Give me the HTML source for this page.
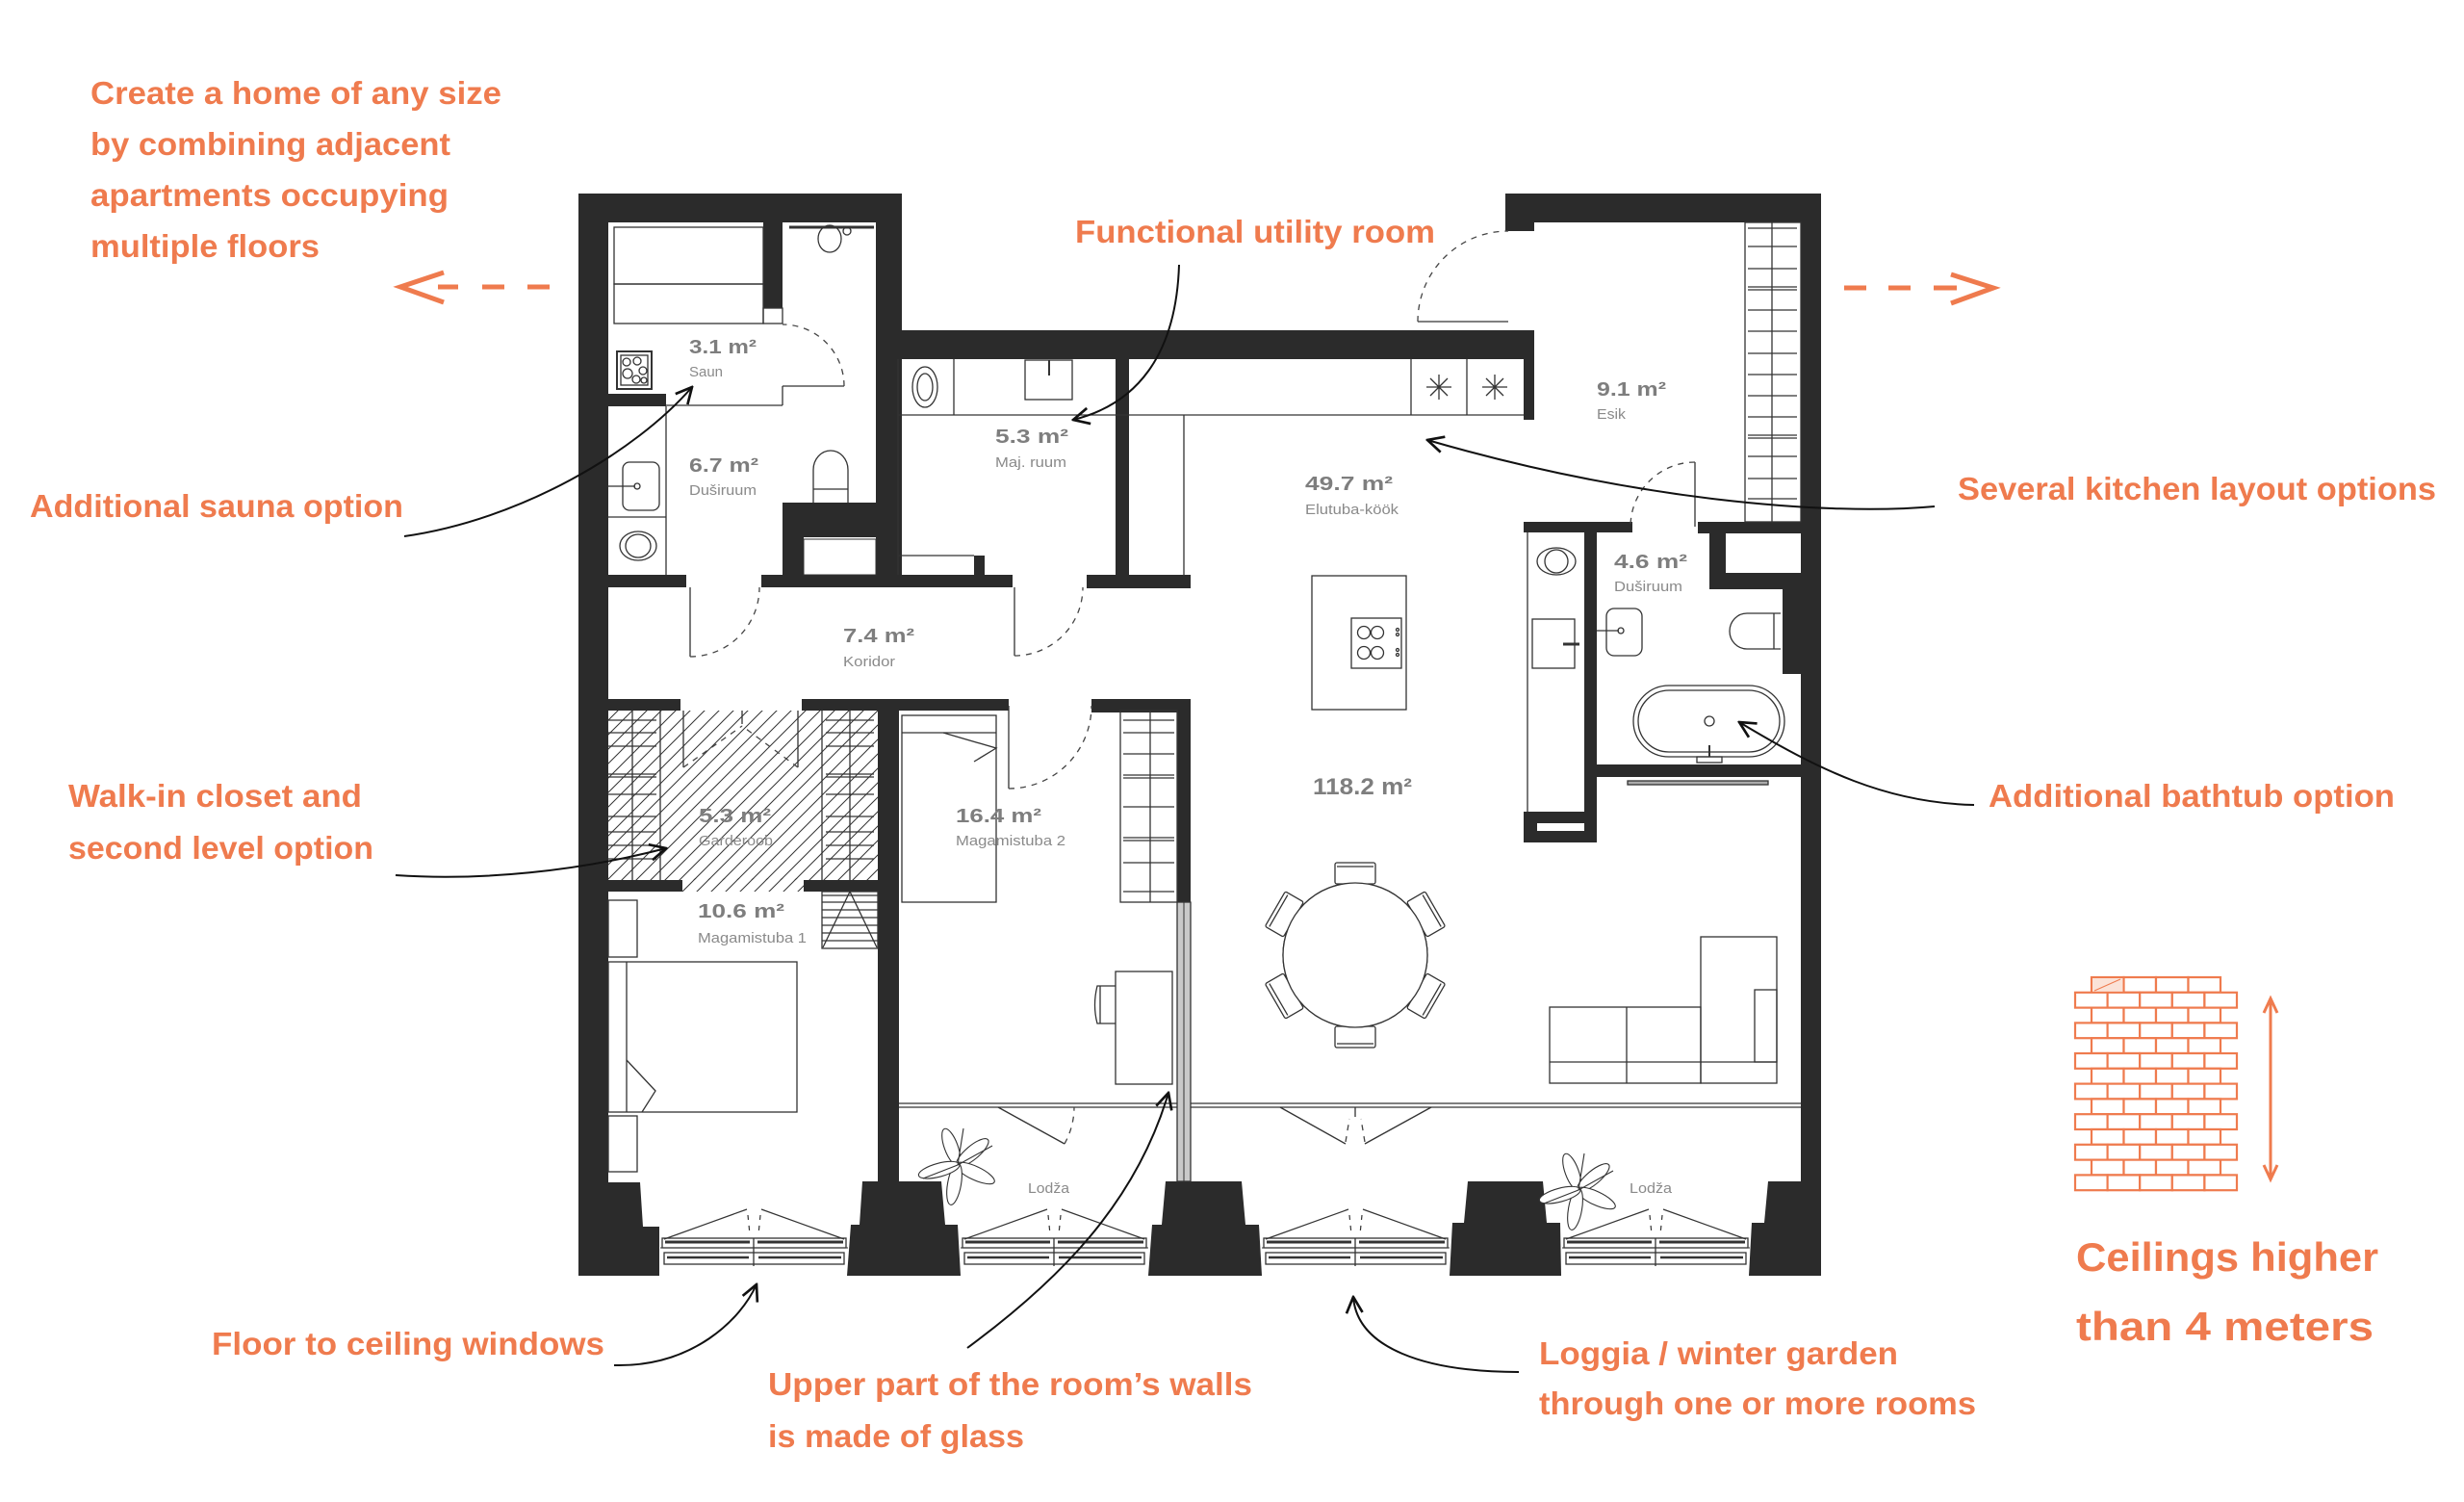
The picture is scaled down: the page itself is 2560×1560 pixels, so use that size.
<!DOCTYPE html>
<html><head><meta charset="utf-8"><style>
html,body{margin:0;padding:0;background:#fff;}
svg{display:block;}
.o{fill:#EF7B4E;font-family:"Liberation Sans",sans-serif;font-weight:bold;font-size:33px;}
.c{fill:#EF7B4E;font-family:"Liberation Sans",sans-serif;font-weight:bold;font-size:42px;}
.a{fill:#7e7e7e;font-family:"Liberation Sans",sans-serif;font-weight:bold;font-size:20px;}
.l{fill:#8a8a8a;font-family:"Liberation Sans",sans-serif;font-size:15px;}
.w{fill:#2b2b2b;}
.t{fill:none;stroke:#333;stroke-width:1.3;}
.d{fill:none;stroke:#444;stroke-width:1.3;stroke-dasharray:6 6;}
.k{fill:none;stroke:#111;stroke-width:2;}
</style></head><body>
<svg width="2560" height="1560" viewBox="0 0 2560 1560" xmlns="http://www.w3.org/2000/svg">
<defs>
<marker id="ar" viewBox="0 0 12 12" refX="11" refY="6" markerWidth="20" markerHeight="20" markerUnits="userSpaceOnUse" orient="auto">
<path d="M1,1 L11,6 L1,11" fill="none" stroke="#111" stroke-width="1.6"/>
</marker>
<pattern id="hatch" patternUnits="userSpaceOnUse" width="15" height="15">
<path d="M-2,17 L17,-2 M-2,2 L2,-2 M13,17 L17,13" stroke="#333" stroke-width="1"/>
</pattern>
<g id="win">
<rect x="2" y="1286" width="191" height="10" fill="#fff" stroke="#333" stroke-width="1.3"/>
<line x1="5" y1="1290" x2="93" y2="1290" stroke="#333" stroke-width="3"/>
<line x1="101" y1="1290" x2="190" y2="1290" stroke="#333" stroke-width="3"/>
<rect x="4" y="1301" width="187" height="12" fill="#fff" stroke="#333" stroke-width="1.3"/>
<line x1="7" y1="1306" x2="92" y2="1306" stroke="#333" stroke-width="2.5"/>
<line x1="102" y1="1306" x2="188" y2="1306" stroke="#333" stroke-width="2.5"/>
<line x1="0" y1="1296" x2="195" y2="1296" stroke="#333" stroke-width="1"/>
<line x1="97" y1="1286" x2="97" y2="1315" stroke="#333" stroke-width="1.3"/>
<line x1="4" y1="1287" x2="90" y2="1256" stroke="#333" stroke-width="1.2"/>
<line x1="105" y1="1256" x2="191" y2="1287" stroke="#333" stroke-width="1.2"/>
<line x1="91" y1="1262" x2="93" y2="1282" stroke="#333" stroke-width="1.2" stroke-dasharray="5 6"/>
<line x1="104" y1="1262" x2="102" y2="1282" stroke="#333" stroke-width="1.2" stroke-dasharray="5 6"/>
</g>
<g id="chair">
<rect x="1387" y="896" width="42" height="22" rx="2" fill="#fff" stroke="#333" stroke-width="1.3"/>
<line x1="1389" y1="900" x2="1427" y2="900" stroke="#333" stroke-width="1.3"/>
</g>
<g id="plant" fill="#fff" stroke="#333" stroke-width="1.1">
<ellipse cx="0" cy="-20" rx="7" ry="20" transform="rotate(-20)"/>
<ellipse cx="0" cy="-20" rx="7" ry="21" transform="rotate(50)"/>
<ellipse cx="0" cy="-20" rx="7" ry="22" transform="rotate(115)"/>
<ellipse cx="0" cy="-20" rx="7" ry="22" transform="rotate(190)"/>
<ellipse cx="0" cy="-20" rx="7" ry="22" transform="rotate(255)"/>
<line x1="0" y1="0" x2="6" y2="-38"/>
<line x1="0" y1="0" x2="36" y2="-20"/>
<line x1="0" y1="0" x2="-36" y2="14"/>
</g>
</defs>

<rect width="2560" height="1560" fill="#fff"/>

<!-- ========== GARDEROOB HATCH ========== -->
<rect x="628" y="738" width="284" height="176" fill="url(#hatch)"/>
<rect x="709" y="912" width="126" height="14" fill="url(#hatch)"/>

<!-- ========== WALLS ========== -->
<g class="w">
<rect x="601" y="201" width="31" height="1030"/>
<rect x="601" y="201" width="336" height="30"/>
<rect x="910" y="201" width="27" height="396"/>
<rect x="937" y="343" width="657" height="30"/>
<rect x="1583" y="373" width="11" height="63"/>
<rect x="1564" y="201" width="328" height="30"/>
<rect x="1564" y="201" width="30" height="39"/>
<rect x="1871" y="201" width="21" height="1030"/>
<rect x="793" y="231" width="20" height="89"/>
<rect x="632" y="409" width="60" height="13"/>
<rect x="628" y="597" width="85" height="13"/>
<rect x="791" y="597" width="261" height="13"/>
<rect x="1129" y="597" width="108" height="14"/>
<rect x="1159" y="373" width="14" height="225"/>
<rect x="1012" y="577" width="11" height="20"/>
<rect x="813" y="522" width="97" height="36"/>
<rect x="813" y="558" width="22" height="39"/>
<rect x="628" y="726" width="79" height="12"/>
<rect x="833" y="726" width="215" height="12"/>
<rect x="1134" y="726" width="103" height="14"/>
<rect x="628" y="914" width="81" height="12"/>
<rect x="835" y="914" width="77" height="12"/>
<rect x="912" y="738" width="22" height="492"/>
<rect x="1223" y="726" width="14" height="211"/>
<rect x="1646" y="553" width="13" height="322"/>
<rect x="1583" y="542" width="113" height="11"/>
<rect x="1764" y="542" width="108" height="12"/>
<rect x="1583" y="843" width="76" height="32"/>
<rect x="1776" y="553" width="17" height="59"/>
<rect x="1776" y="595" width="96" height="17"/>
<rect x="1852" y="612" width="20" height="88"/>
<rect x="1646" y="794" width="226" height="13"/>
<!-- pillars -->
<polygon points="601,1228 665,1228 668,1274 685,1274 685,1325 601,1325"/>
<polygon points="896,1227 978,1227 982,1272 995,1272 998,1325 880,1325 884,1272 893,1272"/>
<polygon points="1211,1227 1290,1227 1294,1272 1308,1272 1311,1325 1193,1325 1197,1272 1207,1272"/>
<polygon points="1525,1227 1603,1227 1607,1270 1621,1270 1622,1325 1506,1325 1509,1270 1521,1270"/>
<polygon points="1837,1227 1892,1227 1892,1325 1817,1325 1820,1270 1833,1270"/>
</g>
<rect x="1597" y="855" width="49" height="8" fill="#fff"/>
<rect x="835" y="560" width="75" height="37" fill="#fff" stroke="#333" stroke-width="1"/>
<rect x="1793" y="557" width="77" height="38" fill="#fff"/>

<!-- glass wall -->
<rect x="1223" y="937" width="14" height="290" fill="#c9c9c9" stroke="#333" stroke-width="1.3"/>
<line x1="1230" y1="937" x2="1230" y2="1227" stroke="#333" stroke-width="1"/>

<!-- ========== FIXTURES ========== -->
<g class="t">
<!-- sauna -->
<rect x="638" y="236" width="155" height="59"/>
<rect x="638" y="295" width="155" height="41"/>
<rect x="793" y="320" width="20" height="16"/>
<line x1="692" y1="421" x2="813" y2="421"/>
<line x1="813" y1="401" x2="813" y2="421"/>
<line x1="813" y1="401" x2="877" y2="401"/>
<rect x="641" y="365" width="36" height="39" stroke-width="2"/>
<rect x="645" y="369" width="28" height="31"/>
<circle cx="651" cy="376" r="4"/><circle cx="662" cy="375" r="4"/><circle cx="668" cy="385" r="4"/>
<circle cx="652" cy="388" r="5"/><circle cx="661" cy="394" r="4"/><circle cx="669" cy="395" r="3"/>
<!-- WC top -->
<line x1="820" y1="236" x2="908" y2="236" stroke-width="3"/>
<ellipse cx="862" cy="248" rx="12" ry="14"/>
<circle cx="880" cy="240" r="4"/>
<!-- 6.7 bath -->
<line x1="692" y1="422" x2="692" y2="597"/>
<rect x="647" y="480" width="38" height="50" rx="7"/>
<line x1="632" y1="505" x2="660" y2="505"/>
<circle cx="662" cy="505" r="3"/>
<line x1="632" y1="537" x2="692" y2="537"/>
<ellipse cx="663" cy="567" rx="19" ry="15"/>
<ellipse cx="663" cy="567" rx="13" ry="12"/>
<path d="M845,522 L845,488 A18,20 0 0 1 881,488 L881,522"/>
<line x1="845" y1="508" x2="881" y2="508"/>
<!-- maj ruum -->
<line x1="933" y1="431" x2="1583" y2="431"/>
<line x1="991" y1="373" x2="991" y2="431"/>
<ellipse cx="961" cy="402" rx="13" ry="21"/>
<ellipse cx="961" cy="402" rx="8" ry="14"/>
<rect x="1065" y="374" width="49" height="41"/>
<line x1="1090" y1="374" x2="1090" y2="390" stroke-width="2"/>
<line x1="1230" y1="431" x2="1230" y2="598"/>
<line x1="933" y1="577" x2="1012" y2="577"/>
<line x1="933" y1="373" x2="933" y2="597"/>
<!-- kitchen counter -->
<line x1="1466" y1="373" x2="1466" y2="431"/>
<line x1="1524" y1="373" x2="1524" y2="431"/>
<path d="M1482,402 L1508,402 M1495,389 L1495,415 M1486,393 L1504,411 M1504,393 L1486,411"/>
<path d="M1540,402 L1566,402 M1553,389 L1553,415 M1544,393 L1562,411 M1562,393 L1544,411"/>
<!-- island -->
<rect x="1363" y="598" width="98" height="139"/>
<rect x="1404" y="642" width="52" height="52"/>
<circle cx="1417" cy="657" r="6.5"/><circle cx="1431" cy="657" r="6.5"/>
<circle cx="1417" cy="678" r="6.5"/><circle cx="1431" cy="678" r="6.5"/>
<circle cx="1452" cy="654" r="1.5"/><circle cx="1452" cy="659" r="1.5"/>
<circle cx="1452" cy="675" r="1.5"/><circle cx="1452" cy="680" r="1.5"/>
<!-- esik wardrobe -->
<rect x="1813" y="231" width="58" height="311"/>
<line x1="1841" y1="231" x2="1841" y2="542"/>
<path d="M1816,237 H1867 M1816,256 H1867 M1816,279 H1867 M1816,298 H1867 M1816,301 H1867 M1816,322 H1867 M1816,344 H1867 M1816,367 H1867 M1816,389 H1867 M1816,411 H1867 M1816,433 H1867 M1816,452 H1867 M1816,455 H1867 M1816,474 H1867 M1816,497 H1867 M1816,518 H1867"/>
<line x1="1473" y1="334" x2="1567" y2="334"/>
<!-- 4.6 bath -->
<line x1="1587" y1="553" x2="1587" y2="843"/>
<ellipse cx="1617" cy="583" rx="20" ry="14"/>
<ellipse cx="1617" cy="583" rx="12" ry="12"/>
<rect x="1592" y="643" width="44" height="51"/>
<line x1="1624" y1="669" x2="1641" y2="669" stroke-width="3"/>
<rect x="1669" y="632" width="37" height="49" rx="8"/>
<line x1="1659" y1="655" x2="1682" y2="655"/>
<circle cx="1684" cy="655" r="3"/>
<path d="M1850,637 L1815,637 A18,18.5 0 0 0 1815,674 L1850,674"/>
<line x1="1843" y1="637" x2="1843" y2="674"/>
<line x1="1761" y1="480" x2="1761" y2="547"/>
<rect x="1697" y="712" width="157" height="74" rx="37"/>
<rect x="1702" y="717" width="147" height="64" rx="32"/>
<circle cx="1776" cy="749" r="5"/>
<line x1="1776" y1="774" x2="1776" y2="786" stroke-width="2"/>
<rect x="1763" y="786" width="26" height="6"/>
<rect x="1691" y="811" width="146" height="4" fill="#aaa"/>
<!-- koridor doors -->
<line x1="717" y1="610" x2="717" y2="682"/>
<line x1="1054" y1="610" x2="1054" y2="681"/>
<line x1="1048" y1="733" x2="1048" y2="819"/>
<!-- garderoob -->
<line x1="710" y1="738" x2="710" y2="797"/>
<line x1="829" y1="738" x2="829" y2="797"/>
<line x1="771" y1="738" x2="771" y2="752"/>
<line x1="657" y1="738" x2="657" y2="914"/>
<line x1="686" y1="738" x2="686" y2="914"/>
<line x1="854" y1="738" x2="854" y2="914"/>
<line x1="883" y1="738" x2="883" y2="914"/>
<path d="M632,748 H682 M632,761 H682 M632,775 H682 M632,804 H682 M632,807 H682 M632,825 H682 M632,848 H682 M632,864 H682 M632,878 H682 M632,892 H682"/>
<path d="M858,748 H908 M858,761 H908 M858,775 H908 M858,804 H908 M858,807 H908 M858,825 H908 M858,848 H908 M858,864 H908 M858,878 H908 M858,892 H908"/>
<!-- bedroom 1 -->
<rect x="854" y="926" width="58" height="59"/>
<path d="M854,930 H912 M854,937 H912 M854,945 H912 M854,953 H912 M854,961 H912 M854,969 H912 M854,977 H912"/>
<path d="M855,984 L883,926 L911,984"/>
<rect x="632" y="935" width="30" height="59"/>
<rect x="632" y="999" width="196" height="156"/>
<line x1="651" y1="999" x2="651" y2="1155"/>
<path d="M651,1101 L681,1133 L667,1155"/>
<rect x="632" y="1159" width="30" height="58"/>
<!-- bedroom 2 -->
<rect x="937" y="743" width="98" height="194"/>
<line x1="937" y1="761" x2="1035" y2="761"/>
<path d="M980,761 L1035,777 L1012,791"/>
<rect x="1164" y="738" width="59" height="199"/>
<line x1="1195" y1="738" x2="1195" y2="937"/>
<path d="M1167,748 H1220 M1167,805 H1220 M1167,808 H1220 M1167,870 H1220 M1167,873 H1220 M1167,926 H1220 M1167,761 H1220 M1167,783 H1220 M1167,838 H1220 M1167,896 H1220"/>
<rect x="1159" y="1009" width="59" height="117"/>
<path d="M1159,1024 L1140,1024 Q1135,1044 1140,1063 L1159,1063"/>
<line x1="1143" y1="1024" x2="1143" y2="1063"/>
<!-- living -->
<circle cx="1408" cy="992" r="75" fill="#fff"/>
<rect x="1610" y="1046" width="157" height="79"/>
<line x1="1690" y1="1046" x2="1690" y2="1125"/>
<line x1="1610" y1="1103" x2="1846" y2="1103"/>
<rect x="1767" y="973" width="79" height="152"/>
<rect x="1823" y="1028" width="23" height="75"/>
<!-- loggia line -->
<path d="M934,1146 H1223 M934,1150 H1223 M1237,1146 H1871 M1237,1150 H1871"/>
<line x1="1037" y1="1150" x2="1106" y2="1188"/>
<line x1="1330" y1="1150" x2="1398" y2="1188"/>
<line x1="1487" y1="1150" x2="1418" y2="1188"/>
<line x1="1408" y1="1150" x2="1408" y2="1160"/>
</g>
<g>
<use href="#chair"/>
<use href="#chair" transform="rotate(60 1408 992)"/>
<use href="#chair" transform="rotate(120 1408 992)"/>
<use href="#chair" transform="rotate(180 1408 992)"/>
<use href="#chair" transform="rotate(240 1408 992)"/>
<use href="#chair" transform="rotate(300 1408 992)"/>
</g>
<circle cx="1408" cy="992" r="75" fill="#fff" stroke="#333" stroke-width="1.3"/>

<!-- dashed door arcs -->
<g class="d">
<path d="M877,401 A64,64 0 0 0 813,337"/>
<path d="M717,682 A72,72 0 0 0 789,610"/>
<path d="M1054,681 A71,71 0 0 0 1125,610"/>
<path d="M1048,819 A86,86 0 0 0 1134,733"/>
<path d="M1473,334 A94,94 0 0 1 1567,240"/>
<path d="M1761,480 A67,67 0 0 0 1694,547"/>
<path d="M1106,1188 A79,79 0 0 0 1116,1150"/>
<path d="M710,797 L771,754"/>
<path d="M829,797 L771,754"/>
<path d="M1398,1186 L1402,1162"/>
<path d="M1418,1186 L1414,1162"/>
</g>

<!-- windows -->
<use href="#win" transform="translate(686,0)"/>
<use href="#win" transform="translate(998,0)"/>
<use href="#win" transform="translate(1311,0)"/>
<use href="#win" transform="translate(1623,0)"/>

<!-- plants -->
<use href="#plant" transform="translate(995,1210)"/>
<use href="#plant" transform="translate(1640,1236)"/>

<!-- ========== PLAN TEXT ========== -->
<text class="a" x="716" y="367" textLength="70" lengthAdjust="spacingAndGlyphs">3.1 m²</text>
<text class="l" x="716" y="391" textLength="35" lengthAdjust="spacingAndGlyphs">Saun</text>
<text class="a" x="716" y="490" textLength="72" lengthAdjust="spacingAndGlyphs">6.7 m²</text>
<text class="l" x="716" y="514" textLength="70" lengthAdjust="spacingAndGlyphs">Duširuum</text>
<text class="a" x="1034" y="460" textLength="76" lengthAdjust="spacingAndGlyphs">5.3 m²</text>
<text class="l" x="1034" y="485" textLength="74" lengthAdjust="spacingAndGlyphs">Maj. ruum</text>
<text class="a" x="876" y="667" textLength="74" lengthAdjust="spacingAndGlyphs">7.4 m²</text>
<text class="l" x="876" y="692" textLength="54" lengthAdjust="spacingAndGlyphs">Koridor</text>
<text class="a" x="1356" y="509" textLength="91" lengthAdjust="spacingAndGlyphs">49.7 m²</text>
<text class="l" x="1356" y="534" textLength="97" lengthAdjust="spacingAndGlyphs">Elutuba-köök</text>
<text class="a" x="1659" y="411" textLength="72" lengthAdjust="spacingAndGlyphs">9.1 m²</text>
<text class="l" x="1659" y="435" textLength="30" lengthAdjust="spacingAndGlyphs">Esik</text>
<text class="a" x="1677" y="590" textLength="76" lengthAdjust="spacingAndGlyphs">4.6 m²</text>
<text class="l" x="1677" y="614" textLength="71" lengthAdjust="spacingAndGlyphs">Duširuum</text>
<text class="a" x="726" y="854" textLength="75" lengthAdjust="spacingAndGlyphs">5.3 m²</text>
<text class="l" x="726" y="878" textLength="77" lengthAdjust="spacingAndGlyphs">Garderoob</text>
<text class="a" x="725" y="953" textLength="90" lengthAdjust="spacingAndGlyphs">10.6 m²</text>
<text class="l" x="725" y="979" textLength="113" lengthAdjust="spacingAndGlyphs">Magamistuba 1</text>
<text class="a" x="993" y="854" textLength="89" lengthAdjust="spacingAndGlyphs">16.4 m²</text>
<text class="l" x="993" y="878" textLength="114" lengthAdjust="spacingAndGlyphs">Magamistuba 2</text>
<text class="a" x="1364" y="825" style="font-size:24px" textLength="103" lengthAdjust="spacingAndGlyphs">118.2 m²</text>
<text class="l" x="1068" y="1239" textLength="43" lengthAdjust="spacingAndGlyphs">Lodža</text>
<text class="l" x="1693" y="1239" textLength="44" lengthAdjust="spacingAndGlyphs">Lodža</text>

<!-- ========== LEADERS ========== -->
<g class="k" marker-end="url(#ar)">
<path d="M420,557 C540,540 660,470 719,402"/>
<path d="M1225,275 C1222,370 1180,420 1115,436"/>
<path d="M2010,526 C1900,536 1700,520 1483,457"/>
<path d="M2051,836 C1960,834 1890,800 1807,750"/>
<path d="M411,909 C500,915 600,905 692,881"/>
<path d="M638,1418 C720,1420 770,1370 786,1334"/>
<path d="M1005,1400 C1100,1330 1180,1250 1214,1135"/>
<path d="M1578,1425 C1480,1425 1410,1400 1406,1347"/>
</g>

<!-- ========== ORANGE ARROWS ========== -->
<g stroke="#EF7B4E" stroke-width="5" fill="none">
<path d="M455,298 H476 M501,298 H524 M548,298 H571"/>
<path d="M461,283 L416,298 L461,314"/>
<path d="M1916,299 H1939 M1962,299 H1985 M2009,299 H2033"/>
<path d="M2027,285 L2071,299 L2027,315"/>
</g>

<!-- brick wall -->
<g fill="#fff" stroke="#EF7B4E" stroke-width="2.2">
<g id="brow0">
<rect x="2173" y="1015" width="33.5" height="15.8"/><rect x="2206.5" y="1015" width="33.5" height="15.8"/><rect x="2240" y="1015" width="33.5" height="15.8"/><rect x="2273.5" y="1015" width="33.5" height="15.8"/>
</g>
<g id="brow1">
<rect x="2156" y="1030.8" width="33.6" height="15.8"/><rect x="2189.6" y="1030.8" width="33.6" height="15.8"/><rect x="2223.2" y="1030.8" width="33.6" height="15.8"/><rect x="2256.8" y="1030.8" width="33.6" height="15.8"/><rect x="2290.4" y="1030.8" width="33.6" height="15.8"/>
</g>
<use href="#brow0" transform="translate(0,31.6)"/><use href="#brow1" transform="translate(0,31.6)"/>
<use href="#brow0" transform="translate(0,63.2)"/><use href="#brow1" transform="translate(0,63.2)"/>
<use href="#brow0" transform="translate(0,94.8)"/><use href="#brow1" transform="translate(0,94.8)"/>
<use href="#brow0" transform="translate(0,126.4)"/><use href="#brow1" transform="translate(0,126.4)"/>
<use href="#brow0" transform="translate(0,158)"/><use href="#brow1" transform="translate(0,158)"/>
<use href="#brow0" transform="translate(0,189.6)"/><use href="#brow1" transform="translate(0,189.6)"/>
</g>
<rect x="2174" y="1016" width="31.5" height="13.8" fill="#fbe3d8"/>
<line x1="2176" y1="1029" x2="2203" y2="1017" stroke="#EF7B4E" stroke-width="1"/>
<g stroke="#EF7B4E" stroke-width="3" fill="none">
<line x1="2359" y1="1040" x2="2359" y2="1222"/>
<path d="M2352,1052 L2359,1037 L2366,1052"/>
<path d="M2352,1210 L2359,1225 L2366,1210"/>
</g>

<!-- ========== ORANGE LABELS ========== -->
<text class="o" x="94" y="108" textLength="427" lengthAdjust="spacingAndGlyphs">Create a home of any size</text>
<text class="o" x="94" y="161" textLength="374" lengthAdjust="spacingAndGlyphs">by combining adjacent</text>
<text class="o" x="94" y="214" textLength="372" lengthAdjust="spacingAndGlyphs">apartments occupying</text>
<text class="o" x="94" y="267" textLength="238" lengthAdjust="spacingAndGlyphs">multiple floors</text>
<text class="o" x="31" y="537" textLength="388" lengthAdjust="spacingAndGlyphs">Additional sauna option</text>
<text class="o" x="1117" y="252" textLength="374" lengthAdjust="spacingAndGlyphs">Functional utility room</text>
<text class="o" x="2034" y="519" textLength="497" lengthAdjust="spacingAndGlyphs">Several kitchen layout options</text>
<text class="o" x="71" y="838" textLength="305" lengthAdjust="spacingAndGlyphs">Walk-in closet and</text>
<text class="o" x="71" y="892" textLength="317" lengthAdjust="spacingAndGlyphs">second level option</text>
<text class="o" x="2066" y="838" textLength="422" lengthAdjust="spacingAndGlyphs">Additional bathtub option</text>
<text class="o" x="220" y="1407" textLength="408" lengthAdjust="spacingAndGlyphs">Floor to ceiling windows</text>
<text class="o" x="798" y="1449" textLength="503" lengthAdjust="spacingAndGlyphs">Upper part of the room’s walls</text>
<text class="o" x="798" y="1503" textLength="266" lengthAdjust="spacingAndGlyphs">is made of glass</text>
<text class="o" x="1599" y="1417" textLength="373" lengthAdjust="spacingAndGlyphs">Loggia / winter garden</text>
<text class="o" x="1599" y="1469" textLength="454" lengthAdjust="spacingAndGlyphs">through one or more rooms</text>
<text class="c" x="2157" y="1320" textLength="314" lengthAdjust="spacingAndGlyphs">Ceilings higher</text>
<text class="c" x="2157" y="1392" textLength="309" lengthAdjust="spacingAndGlyphs">than 4 meters</text>
</svg>
</body></html>
